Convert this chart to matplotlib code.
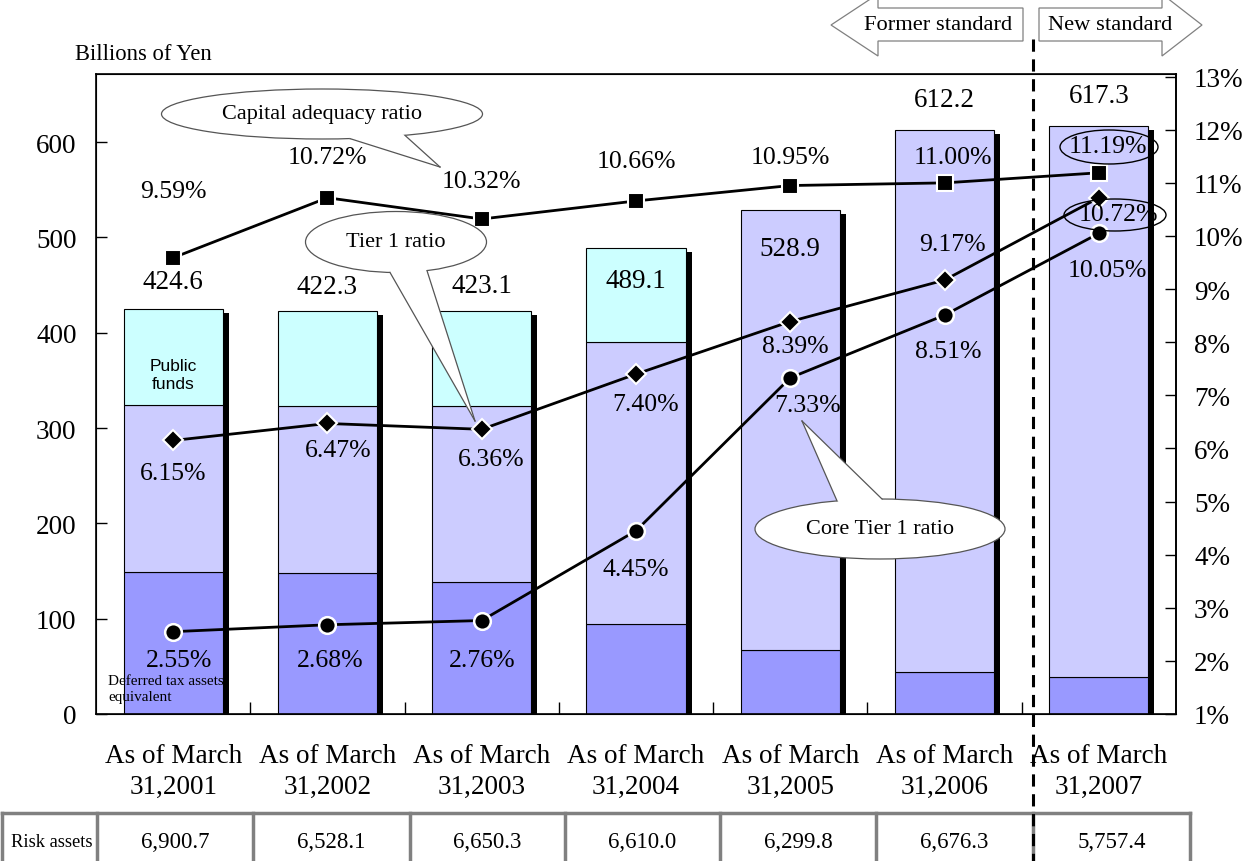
import numpy as np
import matplotlib
matplotlib.use("Agg")
import matplotlib.pyplot as plt
from matplotlib.patches import Ellipse, Polygon
from matplotlib.lines import Line2D
from matplotlib.transforms import Affine2D

# data
years = ["2001", "2002", "2003", "2004", "2005", "2006", "2007"]
totals = [424.6, 422.3, 423.1, 489.1, 528.9, 612.2, 617.3]
dta_equiv = [149.0, 148.0, 139.0, 94.0, 67.0, 44.0, 39.0]
other_capital = [175.5, 174.8, 184.4, 296.0, 461.9, 568.2, 578.3]
public_funds = [100.1, 99.5, 99.7, 99.1, 0.0, 0.0, 0.0]
capital_ratio = [9.59, 10.72, 10.32, 10.66, 10.95, 11.00, 11.19]
tier1_ratio = [6.15, 6.47, 6.36, 7.40, 8.39, 9.17, 10.72]
core_tier1_ratio = [2.55, 2.68, 2.76, 4.45, 7.33, 8.51, 10.05]
risk_assets = ["6,900.7", "6,528.1", "6,650.3", "6,610.0", "6,299.8", "6,676.3", "5,757.4"]

# label offsets in pixels (dx, dy)
total_off = [28, 25, 25, -33, -39, 31, 30]
cap_off = [(0, 67), (0, 41), (0, 38), (0, 40), (0, 29), (8, 26), (9, 27)]
t1_off = [(0, -33), (11, -27), (9, -30), (10, -30), (5, -24), (8, 36), (20, -16)]
core_off = [(6, -28), (3, -35), (0, -39), (0, -38), (17, -27), (4, -36), (9, -37)]

W, H = 1258, 862
SERIF = "Liberation Serif"
plt.rcParams["font.family"] = [SERIF, "DejaVu Serif"]

fig = plt.figure(figsize=(W / 100, H / 100), dpi=100)
PX = Affine2D().scale(1 / W, -1 / H).translate(0, 1) + fig.transFigure

ax = fig.add_axes([96 / W, 1 - 715 / H, 1080 / W, 640 / H])
x = np.arange(len(years))
bw = 0.642

tot = np.array(totals)
ax.bar(x + 0.039, tot - 4.2, width=bw, color="black", zorder=1)
ax.bar(x, dta_equiv, width=bw, color="#9999FF", edgecolor="black", linewidth=0.8, zorder=2)
ax.bar(x, other_capital, width=bw, bottom=dta_equiv, color="#CCCCFF",
       edgecolor="black", linewidth=0.8, zorder=2)
bot2 = np.array(dta_equiv) + np.array(other_capital)
pf = np.array(public_funds)
ax.bar(x[pf > 0], pf[pf > 0], width=bw, bottom=bot2[pf > 0], color="#CCFFFF",
       edgecolor="black", linewidth=0.8, zorder=2)

for i, v in enumerate(totals):
    ax.annotate(f"{v:.1f}", (i, v), xytext=(0, total_off[i]), textcoords="offset pixels",
                ha="center", va="center", fontsize=19.5, zorder=5)

ax.text(0, 356, "Public\nfunds", ha="center", va="center", fontsize=12.5,
        family="Liberation Sans", linespacing=1.3, zorder=5)
ax.text(-0.42, 27, "Deferred tax assets\nequivalent", ha="left", va="center",
        fontsize=11, linespacing=1.35, zorder=5)

ax.set_xlim(-0.5, 6.5)
ax.set_ylim(0, 671.4)
ax.set_yticks(range(0, 601, 100))
ax.set_xticks(x)
ax.set_xticklabels([f"As of March\n31,{y}" for y in years], fontsize=19.5, linespacing=1.32)
ax.set_xticks(x[:-1] + 0.5, minor=True)
ax.tick_params(axis="x", which="major", length=0, pad=21)
ax.tick_params(axis="x", which="minor", direction="in", length=9, width=1)
ax.tick_params(axis="y", direction="in", length=8, width=1, labelsize=19.5, pad=14)
for s in ax.spines.values():
    s.set_linewidth(1.2)

ax2 = ax.twinx()
ax2.set_ylim(1, 13.05)
ax2.set_yticks(range(1, 14))
ax2.set_yticklabels([f"{t}%" for t in range(1, 14)])
ax2.tick_params(axis="y", direction="in", length=8, width=1, labelsize=19.5, pad=13)
ax2.spines["right"].set_linewidth(1.2)

ax2.plot(x, capital_ratio, color="black", lw=2, marker="s", ms=11,
         mfc="black", mec="white", mew=1.5, zorder=4)
ax2.plot(x, tier1_ratio, color="black", lw=2, marker="D", ms=10,
         mfc="black", mec="white", mew=1.5, zorder=4)
ax2.plot(x, core_tier1_ratio, color="black", lw=2, marker="o", ms=12,
         mfc="black", mec="white", mew=1.8, zorder=4)

for series, offs in [(capital_ratio, cap_off), (tier1_ratio, t1_off), (core_tier1_ratio, core_off)]:
    for i, v in enumerate(series):
        ax2.annotate(f"{v:.2f}%", (i, v), xytext=offs[i], textcoords="offset pixels",
                     ha="center", va="center", fontsize=18.5, zorder=6)

fig.text(75, 55, "Billions of Yen", transform=PX, ha="left", va="center", fontsize=16.3)


# callouts
def callout(cx, cy, w, h, bx, side, tip, text):
    a, b = w / 2, h / 2
    sgn = 1 if side == "bottom" else -1
    base = [(xx, cy + sgn * b * np.sqrt(max(0.0, 1 - ((xx - cx) / a) ** 2))) for xx in bx]
    fig.add_artist(Ellipse((cx, cy), w, h, transform=PX, facecolor="white",
                           edgecolor="#555555", lw=0.9, zorder=3))
    fig.add_artist(Polygon([tip, base[0], (cx, cy), base[1]], closed=True, transform=PX,
                           facecolor="white", edgecolor="none", zorder=4))
    for bp in base:
        fig.add_artist(Line2D([bp[0], tip[0]], [bp[1], tip[1]], transform=PX,
                              color="#555555", lw=0.9, zorder=5))
    fig.text(cx, cy, text, transform=PX, ha="center", va="center", fontsize=16, zorder=6)


callout(322, 115, 321, 50, [350, 405], "bottom", (440, 168), "Capital adequacy ratio")
callout(396, 243, 181, 61, [390, 427], "bottom", (475, 422), "Tier 1 ratio")
callout(880, 530, 250, 60, [837, 882], "top", (802, 422), "Core Tier 1 ratio")

for cx, cy, w, h in [(1109, 148, 98, 34), (1115, 216, 102, 32)]:
    fig.add_artist(Ellipse((cx, cy), w, h, transform=PX, facecolor="none",
                           edgecolor="black", lw=1.0, zorder=7))

# standard arrows
former = [(831, 26), (878, -5), (878, 9), (1023, 9), (1023, 42), (878, 42), (878, 57)]
new = [(1039, 9), (1162, 9), (1162, -5), (1202, 26), (1162, 57), (1162, 42), (1039, 42)]
for pts in (former, new):
    fig.add_artist(Polygon(pts, closed=True, transform=PX, facecolor="white",
                           edgecolor="#808080", lw=0.9, zorder=3))
fig.text(938, 26, "Former standard", transform=PX, ha="center", va="center", fontsize=16.2)
fig.text(1110, 26, "New standard", transform=PX, ha="center", va="center", fontsize=16.2)

fig.add_artist(Line2D([1033, 1033], [40, 862], transform=PX, color="black", lw=2.2,
                      dashes=(4, 2.5), zorder=8))

# risk assets table
edges = [2, 97, 253, 410, 565, 720, 876, 1033, 1190]
ty0, ty1 = 814, 872
for e in edges:
    fig.add_artist(Line2D([e, e], [ty0, ty1], transform=PX, color="#808080", lw=2.5, zorder=3))
fig.add_artist(Line2D([edges[0], edges[-1]], [ty0, ty0], transform=PX, color="#808080",
                      lw=2.5, zorder=3))
fig.text((edges[0] + edges[1]) / 2 + 2, 843, "Risk assets", transform=PX, ha="center",
         va="center", fontsize=13.3)
for i, v in enumerate(risk_assets):
    fig.text((edges[i + 1] + edges[i + 2]) / 2, 843, v, transform=PX, ha="center",
             va="center", fontsize=16.5)

fig.savefig("out.png", dpi=100)
